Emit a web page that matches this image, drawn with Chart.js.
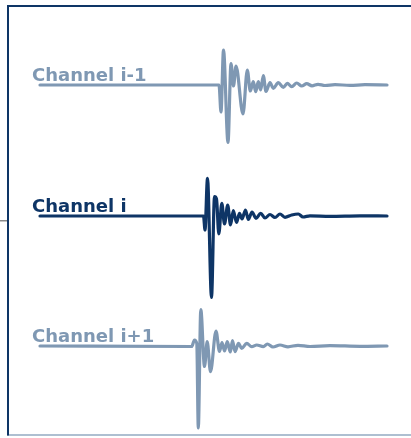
<!DOCTYPE html>
<html lang="en">

<head>
    <meta charset="UTF-8">
    <title>Channels</title>
    <script src="https://cdn.jsdelivr.net/npm/chart.js"></script>
    <style>
        body { margin: 0; background: #ffffff; }
        #box { width: 411px; height: 438px; }
    </style>
</head>

<body>
    <div id="box">
        <canvas id="myChart"></canvas>
    </div>

    <script>
        // trace names and vertical offsets (amplitude units)
        const channelNames = ['Channel i-1', 'Channel i', 'Channel i+1'];
        const channelOffsets = [13.55, 0.45, -12.55];

        // time (ms) and amplitude of each trace
        const timeUp = [0, 179, 181, 183.5, 188, 191, 193.5, 196, 203, 207.3, 210.3, 213.3, 215.7, 218.3, 220.7,
            223.3, 226, 230, 233.3, 238.3, 243.3, 247.3, 251.7, 256.7, 261.7, 266.7, 272, 278, 285, 295, 310, 325, 347];
        const ampUp = [0, 0, -2.7, 3.5, -5.75, 2.15, -0.1, 1.9, -2.9, 1.5, -0.6, 0.33, -0.67, 0.33, -0.5,
            0.95, -0.65, 0.23, -0.33, 0.23, -0.23, 0.17, -0.17, 0.2, -0.1, 0.13, -0.08, 0.07, -0.05, 0.04, -0.04, 0.03, 0];

        const timeMid = [0, 163.5, 165, 167.5, 171.5, 174.5, 176.5, 178.8, 181.8, 184.5, 187.7, 190.5, 193.3, 196.5,
            199.5, 202, 205.5, 208.3, 212, 216, 220.7, 225, 230, 235, 240, 245, 251.7, 258.3, 263, 270, 290, 320, 347];
        const ampMid = [0, 0, -1.4, 3.77, -8.15, 1.93, 1.7, -1.8, 1.27, -0.8, 1.1, -0.9, 0.55, -0.65,
            0.27, -0.3, 0.6, -0.35, 0.4, -0.23, 0.27, -0.2, 0.15, -0.15, 0.2, -0.13, 0.1, 0.2, -0.1, 0.02, -0.03, 0.02, 0];

        const timeLow = [0, 151.7, 154.5, 156.8, 158.3, 160.8, 164.5, 167.2, 170.5, 176, 179.5, 182, 184.5, 187.3,
            190.3, 192.5, 195, 198.5, 201.7, 206.7, 211.7, 216.7, 223.3, 227.3, 233, 240, 248, 258, 270, 290, 320, 347];
        const ampLow = [0, -0.05, 0.6, 0.25, -8.2, 3.65, -2.05, 0.43, -2.57, 1.5, -0.55, 0.35, -0.5, 0.43,
            -0.6, 0.55, -0.57, 0.27, -0.23, 0.27, -0.07, 0.1, -0.07, 0.2, -0.1, 0.1, -0.08, 0.07, -0.05, 0.04, -0.03, 0];

        const lightBlue = '#7f98b3';
        const darkBlue = '#0e3566';
        const colores = [lightBlue, darkBlue, lightBlue];

        function juntar(tiempos, amps, offset) {
            return tiempos.map(function (t, i) {
                return { x: t, y: offset + amps[i] };
            });
        }

        const series = [
            juntar(timeUp, ampUp, channelOffsets[0]),
            juntar(timeMid, ampMid, channelOffsets[1]),
            juntar(timeLow, ampLow, channelOffsets[2])
        ];

        // labels written over the left end of every trace
        const etiquetas = {
            id: 'etiquetas',
            afterDatasetsDraw(chart) {
                const ctx = chart.ctx;
                const x = chart.scales.x.getPixelForValue(-8);
                ctx.save();
                ctx.font = 'bold 18px "DejaVu Sans"';
                ctx.textAlign = 'left';
                ctx.textBaseline = 'alphabetic';
                channelNames.forEach(function (nombre, i) {
                    ctx.fillStyle = colores[i];
                    ctx.fillText(nombre, x, chart.scales.y.getPixelForValue(channelOffsets[i]) - 4.5);
                });
                ctx.restore();
            }
        };

        const config = {
            type: 'line',
            data: {
                datasets: series.map(function (d, i) {
                    return {
                        label: channelNames[i],
                        data: d,
                        borderColor: colores[i],
                        borderWidth: 3.2,
                        borderJoinStyle: 'round',
                        borderCapStyle: 'round',
                        pointRadius: 0,
                        cubicInterpolationMode: 'monotone',
                        fill: false
                    };
                })
            },
            options: {
                responsive: true,
                maintainAspectRatio: false,
                animation: false,
                layout: { padding: { top: 6, bottom: 3, left: 0, right: 0 } },
                scales: {
                    x: {
                        type: 'linear',
                        position: 'top',
                        min: -32,
                        max: 371,
                        ticks: { display: false },
                        grid: { display: false, drawTicks: false },
                        border: { display: true, color: darkBlue, width: 2 }
                    },
                    x2: {
                        type: 'linear',
                        position: 'bottom',
                        min: 0,
                        max: 1,
                        ticks: { display: false },
                        grid: { display: false, drawTicks: false },
                        border: { display: true, color: '#aebfd1', width: 2 }
                    },
                    y: {
                        type: 'linear',
                        min: -21.45,
                        max: 21.45,
                        afterBuildTicks: function (axis) {
                            axis.ticks = [{ value: 0 }];
                        },
                        ticks: { display: false },
                        grid: {
                            drawOnChartArea: false,
                            drawTicks: true,
                            tickLength: 8,
                            color: '#8a8a8a',
                            lineWidth: 1.5
                        },
                        border: { display: true, color: darkBlue, width: 2 }
                    }
                },
                plugins: {
                    legend: { display: false },
                    tooltip: { enabled: false }
                }
            },
            plugins: [etiquetas]
        };

        const myChart = new Chart(document.getElementById('myChart'), config);
    </script>
</body>

</html>
